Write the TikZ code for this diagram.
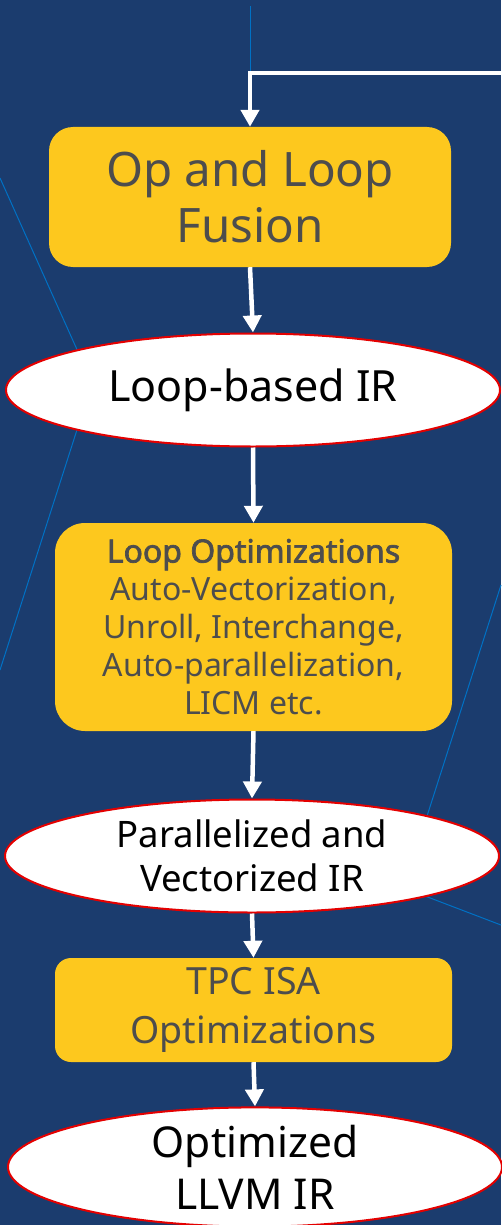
\documentclass[tikz,border=0pt]{standalone}
\usepackage{fontspec}
\setmainfont{Noto Sans}
\newfontfamily\headfont{Noto Sans}[FakeBold=2.2]
\usetikzlibrary{shapes.geometric,arrows.meta}
\definecolor{bgblue}{RGB}{27,60,110}
\definecolor{thinblue}{RGB}{0,113,197}
\definecolor{boxyellow}{RGB}{253,200,30}
\definecolor{boxtext}{RGB}{77,77,77}
\definecolor{ellred}{RGB}{228,0,0}
\tikzset{
  stepbox/.style={rectangle, rounded corners=#1, fill=boxyellow, text=boxtext, align=center, inner sep=0pt},
  irnode/.style={ellipse, fill=white, draw=ellred, line width=2pt, text=black, align=center, inner sep=0pt, minimum width=494pt, minimum height=113pt},
  flow/.style={draw=white, line width=4.5pt, -{Triangle[width=18pt,length=17pt]}},
  deco/.style={draw=thinblue, line width=1pt}
}
\begin{document}
\begin{tikzpicture}[x=1pt,y=-1pt]
\fill[bgblue] (0,0) rectangle (501,1225);
\useasboundingbox (0,0) rectangle (501,1225);
% decorative thin lines
\draw[deco] (250,6) -- (250,72);
\draw[deco] (0,178) -- (92,383) -- (0,670);
\draw[deco] (501,585) -- (404,888) -- (501,925);
% nodes
\node[stepbox=24pt, minimum width=402pt, minimum height=140pt,
      font=\fontsize{47.5}{56}\selectfont] (fusion) at (250,197) {Op and Loop\\Fusion};
\node[irnode, font=\fontsize{43}{50}\selectfont] (loopir) at (253,390) {Loop-based IR};
\node[stepbox=30pt, minimum width=397pt, minimum height=208pt,
      font=\fontsize{32}{38}\selectfont] (loopopt) at (253.5,627)
  {{\headfont Loop Optimizations}\\Auto-Vectorization,\\Unroll, Interchange,\\Auto-parallelization,\\LICM etc.};
\node[irnode, font=\fontsize{36.5}{44}\selectfont] (parir) at (252,856) {Parallelized and\\Vectorized IR};
\node[stepbox=16pt, minimum width=397pt, minimum height=104pt,
      font=\fontsize{37.5}{49}\selectfont] (tpc) at (253.5,1010) {TPC ISA\\Optimizations};
\node[irnode, font=\fontsize{42.5}{52}\selectfont] (llvm) at (255,1167) {Optimized\\LLVM IR};
% connectors
\coordinate (feed) at (506,73);
\draw[flow] (feed) -| (fusion.north);
\draw[flow] (fusion.south) -- (loopir.north);
\draw[flow] (loopir.south) -- (loopopt.north);
\draw[flow] (loopopt.south) -- (parir.north);
\draw[flow] (parir.south) -- (tpc.north);
\draw[flow] (tpc.south) -- (llvm.north);
\end{tikzpicture}
\end{document}
